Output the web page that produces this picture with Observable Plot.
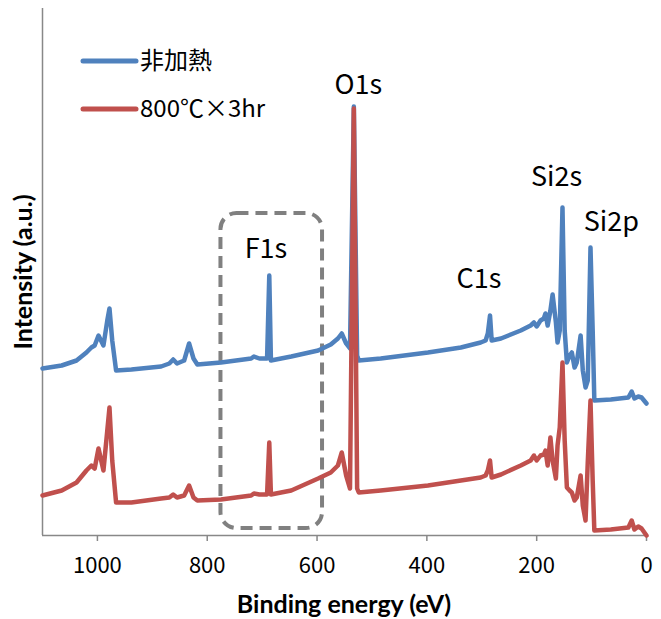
<!DOCTYPE html>
<html><head><meta charset="utf-8">
<script src="https://cdn.jsdelivr.net/npm/d3@7"></script>
<script src="https://cdn.jsdelivr.net/npm/@observablehq/plot@0.6"></script>
<style>body{margin:0;background:#fff}#chart{width:661px;height:619px}</style>
</head><body><div id="chart"></div>
<script>
// Binding energy (eV)
const energy = [1100,1065,1038,1020,1011,1005,998,989,982,978,973,966,938,884,869,862,855,842,833,825,818,775,720,715,705,691,687,684,647,598,575,562,555,547,540,533,527,524,484,398,338,302,293,289,285,282,265,229,211,205,200,193,187,184,180,175,171,165,162,158,153,149,145,140,136,131,127,120,116,111,107,102,98,95,65,33,27,22,15,9,0];
// 非加熱 (offset intensity, a.u.)
const unheated = [167,170,175,183,188,190,200,190,215,227,195,165,166,169,172,176,172,175,192,177,171,173,177,179,177,177,260,175,179,185,191,197,202,192,187,429,180,175,177,183,188,193,195,202,220,195,197,205,210,213,209,215,217,222,210,225,241,213,193,205,328,205,173,180,183,168,173,200,165,148,155,288,205,135,136,138,144,137,139,138,132];
// 800℃×3hr
const heated = [40,45,53,65,70,67,87,65,105,128,75,33,33,37,38,41,38,40,50,38,35,36,40,42,41,41,93,41,45,57,63,70,83,60,47,427,47,43,45,50,55,58,60,65,75,58,61,70,75,80,75,80,81,85,70,98,75,57,90,108,173,95,48,45,43,35,38,60,30,15,73,135,55,5,6,8,15,6,9,7,0];
const xTicks = [1000,800,600,400,200,0];
const seriesNames = ["非加熱","800℃×3hr"];
const seriesColors = ["#4F81BD","#C0504D"];
const peakNames = ["O1s","Si2s","Si2p","C1s","F1s"];
const peakEnergy = [525,164,64,305,693];
const peakY = [450,358,313,256,286];
const boxE = [775,590];
const boxY = [7,322];

const table = energy.map((e,i)=>({energy:e, unheated:unheated[i], heated:heated[i]}));
const peaks = peakNames.map((n,i)=>({name:n, energy:peakEnergy[i], y:peakY[i]}));
const box = [{x1:boxE[0], x2:boxE[1], y1:boxY[0], y2:boxY[1]}];

const cjk = "'Noto Sans CJK JP', 'Noto Sans', sans-serif";
const chart = Plot.plot({
  width:661, height:619, marginLeft:42, marginRight:15, marginTop:8, marginBottom:84,
  style:{fontFamily:cjk, fontSize:"18px", color:"#000", background:"#fff"},
  x:{domain:[1100,0], label:null},
  y:{domain:[0,527], axis:null},
  marks:[
    Plot.rect(box,{x1:"x1",x2:"x2",y1:"y1",y2:"y2",fill:"none",stroke:"#808080",strokeWidth:4,strokeDasharray:"12,7",rx:16}),
    Plot.ruleY([0],{stroke:"#888",strokeWidth:1.5}),
    Plot.ruleX([1100],{stroke:"#888",strokeWidth:1.5}),
    Plot.axisX({ticks:xTicks, tickFormat:d=>String(d), tickSize:6, tickPadding:16, stroke:"#888", strokeWidth:1.5, fill:"#000", fontSize:22, label:null}),
    Plot.line(table,{x:"energy",y:"unheated",stroke:seriesColors[0],strokeWidth:4.5,strokeLinejoin:"round",strokeLinecap:"round"}),
    Plot.line(table,{x:"energy",y:"heated",stroke:seriesColors[1],strokeWidth:4.5,strokeLinejoin:"round",strokeLinecap:"round"}),
    Plot.text(peaks,{x:"energy",y:"y",text:"name",fontSize:27,fill:"#000"})
  ]
});
document.getElementById("chart").append(chart);

const svg = d3.select(chart);
const titleFont = "Lato, 'Open Sans', sans-serif";
svg.append("text").attr("x",344).attr("y",613).attr("text-anchor","middle")
  .style("font-family",titleFont).style("font-weight","bold").style("font-size","25px").text("Binding energy (eV)");
svg.append("text").attr("transform","translate(32,272) rotate(-90)").attr("text-anchor","middle")
  .style("font-family",titleFont).style("font-weight","bold").style("font-size","25px").text("Intensity (a.u.)");
const lg = svg.append("g").attr("text-anchor","start");
seriesNames.forEach((n,i)=>{
  const y = 61 + i*48;
  lg.append("line").attr("x1",83).attr("x2",136).attr("y1",y).attr("y2",y)
    .attr("stroke",seriesColors[i]).attr("stroke-width",5).attr("stroke-linecap","round");
  lg.append("text").attr("x",140).attr("y",y).attr("dy","0.35em").attr("text-anchor","start")
    .style("font-family",cjk).style("font-size","24px").text(n);
});
</script></body></html>
